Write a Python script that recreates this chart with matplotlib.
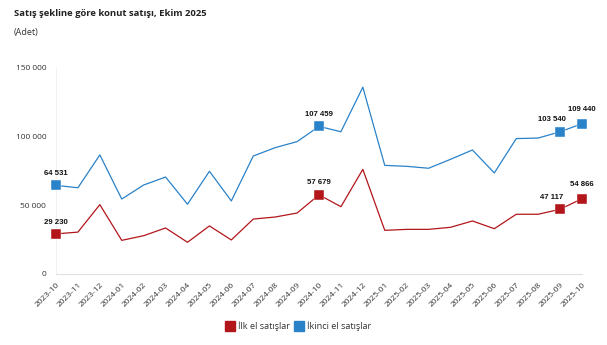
import matplotlib
matplotlib.use("Agg")
import matplotlib.pyplot as plt
from matplotlib.lines import Line2D

months = ["2023-10","2023-11","2023-12","2024-01","2024-02","2024-03","2024-04","2024-05",
          "2024-06","2024-07","2024-08","2024-09","2024-10","2024-11","2024-12","2025-01",
          "2025-02","2025-03","2025-04","2025-05","2025-06","2025-07","2025-08","2025-09","2025-10"]
ilk_el = [29230, 30500, 50500, 24500, 27900, 33500, 23100, 35000, 24800, 40000, 41500, 44400,
          57679, 49000, 76200, 31800, 32500, 32500, 34000, 38600, 33000, 43500, 43500, 47117, 54866]
ikinci_el = [64531, 62800, 86700, 54600, 64800, 70600, 50800, 74800, 53200, 85900, 92000, 96400,
             107459, 103600, 136000, 79100, 78400, 77000, 83500, 90300, 73600, 98600, 99000, 103540, 109440]
yticks = [0, 50000, 100000, 150000]
marked = [0, 12, 23, 24]
series_names = ["İlk el satışlar", "İkinci el satışlar"]
title = "Satış şekline göre konut satışı, Ekim 2025"
subtitle = "(Adet)"

RED = "#B2161B"
BLUE = "#2A82C9"
FONT = ["Open Sans", "DejaVu Sans"]
LBL = ["Liberation Sans", "DejaVu Sans"]

def fmt(v):
    return f"{v:,}".replace(",", " ")

fig = plt.figure(figsize=(6.07, 3.45), dpi=100)
ax = fig.add_axes([56/607, 1-274/345, (582-56)/607, (274-68)/345])
x = list(range(len(months)))

for vals, col in [(ilk_el, RED), (ikinci_el, BLUE)]:
    ax.plot(x, vals, color=col, lw=0.9, zorder=3, clip_on=False)
    ax.plot([x[i] for i in marked], [vals[i] for i in marked], ls="none", marker="s",
            ms=7.5, color=col, mec="#ffffff", mew=0.3, zorder=4, clip_on=False)

label_off = {0: (0, 6), 12: (0, 6), 23: (-6, 6), 24: (0, 8)}
for vals in (ilk_el, ikinci_el):
    for i in marked:
        dx, dy = label_off[i]
        ax.annotate(fmt(vals[i]), (x[i], vals[i]), xytext=(dx, dy), textcoords="offset points",
                    ha="center", va="bottom", fontsize=5.6, fontweight="bold",
                    family=LBL, color="#111111", zorder=5)

ax.set_xlim(0, len(months)-1)
ax.set_ylim(0, 150000)
ax.set_yticks(yticks)
ax.set_yticklabels([fmt(v) for v in yticks], fontsize=6.0, family=FONT, color="#333333")
ax.set_xticks(x)
ax.set_xticklabels(months, rotation=45, ha="right", rotation_mode="anchor",
                   fontsize=6.0, family=FONT, color="#333333")
ax.tick_params(axis="both", length=0, pad=7)
ax.tick_params(axis="x", pad=5)
for s in ["top", "right", "left"]:
    ax.spines[s].set_visible(False)
ax.spines["bottom"].set_color("#e0e0e0")
ax.spines["bottom"].set_linewidth(0.8)
ax.axvline(0, color="#f0f0f0", lw=0.6, zorder=0)

fig.text(14/607, 1-14/345, title, fontsize=6.8, fontweight="bold", family=FONT,
         color="#222222", va="center", ha="left")
fig.text(14/607, 1-33/345, subtitle, fontsize=6.5, family=FONT, color="#333333",
         va="center", ha="left")

handles = [Line2D([], [], ls="none", marker="s", ms=7.5, color=RED),
           Line2D([], [], ls="none", marker="s", ms=7.5, color=BLUE)]
leg = fig.legend(handles, series_names, loc="center", bbox_to_anchor=(298/607, 1-326/345),
                 ncol=2, frameon=False, prop={"family": FONT, "size": 6.6},
                 handletextpad=0.35, columnspacing=0.5, handlelength=1.0)
for t in leg.get_texts():
    t.set_color("#333333")

fig.savefig("out.png", dpi=100)
